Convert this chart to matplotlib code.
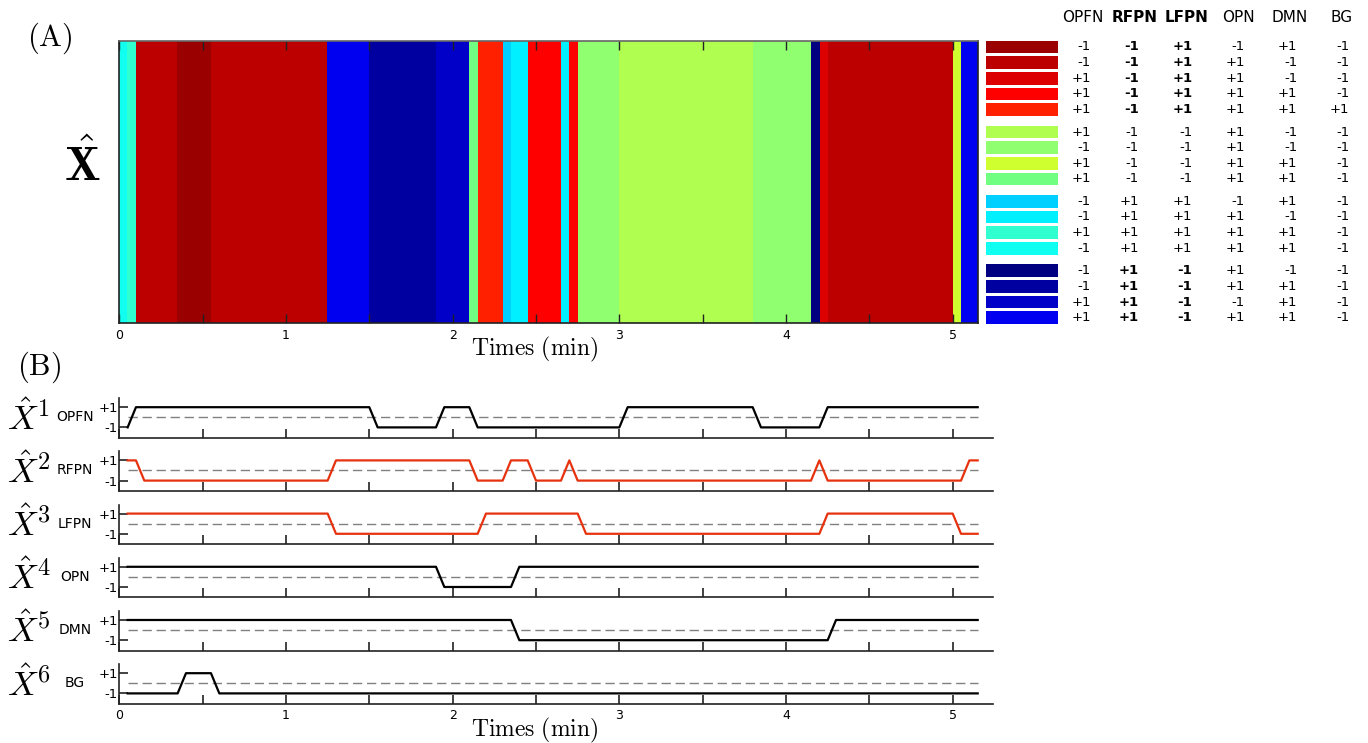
import numpy as np
import matplotlib
matplotlib.use('Agg')
import matplotlib.pyplot as plt
import matplotlib.colors as mcolors
from matplotlib.patches import Rectangle

plt.rcParams['mathtext.fontset'] = 'cm'

# networks and the 17 legend states (colour + sign pattern)
networks = ['OPFN', 'RFPN', 'LFPN', 'OPN', 'DMN', 'BG']
bold_nets = ['RFPN', 'LFPN']
state_colors = ['#9b0000', '#bc0000', '#dc0000', '#ff0000', '#ff2000',
                '#b0ff50', '#90ff70', '#d0ff30', '#70ff80',
                '#00d0ff', '#00f0ff', '#30ffd0', '#10fff0',
                '#000080', '#0000a0', '#0000c8', '#0000f0']
state_codes = [[-1, -1, +1, -1, +1, -1],
               [-1, -1, +1, +1, -1, -1],
               [+1, -1, +1, +1, -1, -1],
               [+1, -1, +1, +1, +1, -1],
               [+1, -1, +1, +1, +1, +1],
               [+1, -1, -1, +1, -1, -1],
               [-1, -1, -1, +1, -1, -1],
               [+1, -1, -1, +1, +1, -1],
               [+1, -1, -1, +1, +1, -1],
               [-1, +1, +1, -1, +1, -1],
               [-1, +1, +1, +1, -1, -1],
               [+1, +1, +1, +1, +1, -1],
               [-1, +1, +1, +1, +1, -1],
               [-1, +1, -1, +1, -1, -1],
               [-1, +1, -1, +1, +1, -1],
               [+1, +1, -1, -1, +1, -1],
               [+1, +1, -1, +1, +1, -1]]
state_group = [0, 0, 0, 0, 0, 1, 1, 1, 1, 2, 2, 2, 2, 3, 3, 3, 3]
bold_groups = [0, 3]

# sampling step (min)
tr = 0.05

# state sequence of X hat as runs: state index, number of samples
seq_state = [12, 11, 1, 0, 1, 16, 14, 15, 8, 4, 9, 10, 3, 10, 3, 6, 5, 6, 13, 2, 1, 7, 16]
seq_len = [1, 1, 5, 4, 14, 5, 8, 4, 1, 3, 1, 2, 4, 1, 1, 5, 16, 7, 1, 1, 15, 1, 2]

# per-network traces as runs: (value, number of samples)
opfn_runs = [(-1, 1), (1, 29), (-1, 8), (1, 4), (-1, 18), (1, 16), (-1, 8), (1, 19)]
rfpn_runs = [(1, 2), (-1, 23), (1, 17), (-1, 4), (1, 3), (-1, 4), (1, 1), (-1, 29),
             (1, 1), (-1, 17), (1, 2)]
lfpn_runs = [(1, 25), (-1, 18), (1, 12), (-1, 29), (1, 16), (-1, 3)]
opn_runs = [(1, 38), (-1, 9), (1, 56)]
dmn_runs = [(1, 47), (-1, 38), (1, 18)]
bg_runs = [(-1, 7), (1, 4), (-1, 92)]
all_runs = [opfn_runs, rfpn_runs, lfpn_runs, opn_runs, dmn_runs, bg_runs]
trace_colors = ['black', '#e6320e', '#e6320e', 'black', 'black', 'black']

W, H = 1368, 743
fig = plt.figure(figsize=(W / 100, H / 100), dpi=100)


def px(l, t, r, b):
    # pixel box -> figure fraction
    return [l / W, 1 - b / H, (r - l) / W, (b - t) / H]


spine_col = '#222222'

# (A) heatmap of the state sequence
states = np.repeat(seq_state, seq_len)
n = len(states)
rgb = np.array([mcolors.to_rgb(state_colors[s]) for s in states])[None, :, :]
ax = fig.add_axes(px(119.3, 41, 977.7, 323.3))
ax.imshow(rgb, aspect='auto', interpolation='nearest', extent=(0, n * tr, 0, 1))
ax.set_xlim(0, n * tr)
ax.set_ylim(0, 1)
ax.set_yticks([])
ax.set_xticks(range(6))
ax.set_xticks(np.arange(0.5, 5.2, 1.0), minor=True)
ax.tick_params(axis='x', which='both', direction='in', top=True, length=6.3,
               width=1, color=spine_col, labelsize=9, pad=4)
for s in ax.spines.values():
    s.set_color(spine_col)
    s.set_linewidth(1.2)
ax.spines['top'].set_color('#666666')

fig.text(50 / W, 1 - 38 / H, r'$\mathrm{(A)}$', fontsize=22, ha='center', va='center')
fig.text(82 / W, 1 - 166 / H, r'$\hat{\mathbf{X}}$', fontsize=34, ha='center', va='center')
fig.text(535 / W, 1 - 349 / H, r'$\mathrm{Times\ (min)}$', fontsize=17, ha='center', va='center')

# legend table
lax = fig.add_axes([0, 0, 1, 1])
lax.set_xlim(0, W)
lax.set_ylim(H, 0)
lax.axis('off')
head_x = [1083.3, 1135, 1186.7, 1238.3, 1290, 1341.7]
val_x = [1091, 1139, 1192.3, 1245, 1297.3, 1349.3]
for j, name in enumerate(networks):
    lax.text(head_x[j], 17.3, name, fontsize=11, ha='center', va='center',
             fontweight='bold' if name in bold_nets else 'normal')
for i, (col, codes) in enumerate(zip(state_colors, state_codes)):
    y = 47 + 15.6 * i + 7 * state_group[i]
    lax.add_patch(Rectangle((986, y - 6.3), 71.7, 12.7, facecolor=col, edgecolor='none'))
    for j, v in enumerate(codes):
        bold = networks[j] in bold_nets and state_group[i] in bold_groups
        lax.text(val_x[j], y, f'{v:+d}', fontsize=9.5, ha='right', va='center',
                 fontweight='bold' if bold else 'normal')

# (B) one trace per network
fig.text(39.5 / W, 1 - 367 / H, r'$\mathrm{(B)}$', fontsize=22, ha='center', va='center')
t = tr * (np.arange(n) + 1)
for i, runs in enumerate(all_runs):
    b = 437.7 + 53.2 * i
    axb = fig.add_axes(px(119.3, b - 39.5, 992.7, b))
    vals = np.repeat([v for v, _ in runs], [c for _, c in runs])
    axb.hlines(0, t[0], t[-1], colors='#808080', linestyles=(0, (6.7, 3.4)), lw=1)
    axb.plot(t, vals, color=trace_colors[i], lw=1.6)
    axb.set_xlim(0, 5.24)
    axb.set_ylim(-2.02, 1.89)
    axb.spines['top'].set_visible(False)
    axb.spines['right'].set_visible(False)
    for s in ['left', 'bottom']:
        axb.spines[s].set_color(spine_col)
        axb.spines[s].set_linewidth(1.2)
    axb.set_yticks([-1, 1])
    axb.set_yticklabels(['-1', '+1'])
    axb.set_xticks(range(6))
    axb.set_xticks(np.arange(0.5, 5.2, 1.0), minor=True)
    axb.tick_params(axis='y', direction='in', length=6.5, width=1.2, color=spine_col,
                    labelsize=9.5, pad=1)
    axb.tick_params(axis='x', which='both', direction='in', length=6.5, width=1.2,
                    color=spine_col, labelsize=9, pad=4)
    if i < len(all_runs) - 1:
        axb.set_xticklabels([])
    yc = 1 - (b - 19.5) / H
    fig.text(7 / W, yc, r'$\hat{X}^{%d}$' % (i + 1), fontsize=25, ha='left', va='center')
    fig.text(75 / W, yc + 1 / H, networks[i], fontsize=10, ha='center', va='center')

fig.text(535 / W, 1 - 730 / H, r'$\mathrm{Times\ (min)}$', fontsize=17, ha='center', va='center')

fig.savefig('out.png', dpi=100)
